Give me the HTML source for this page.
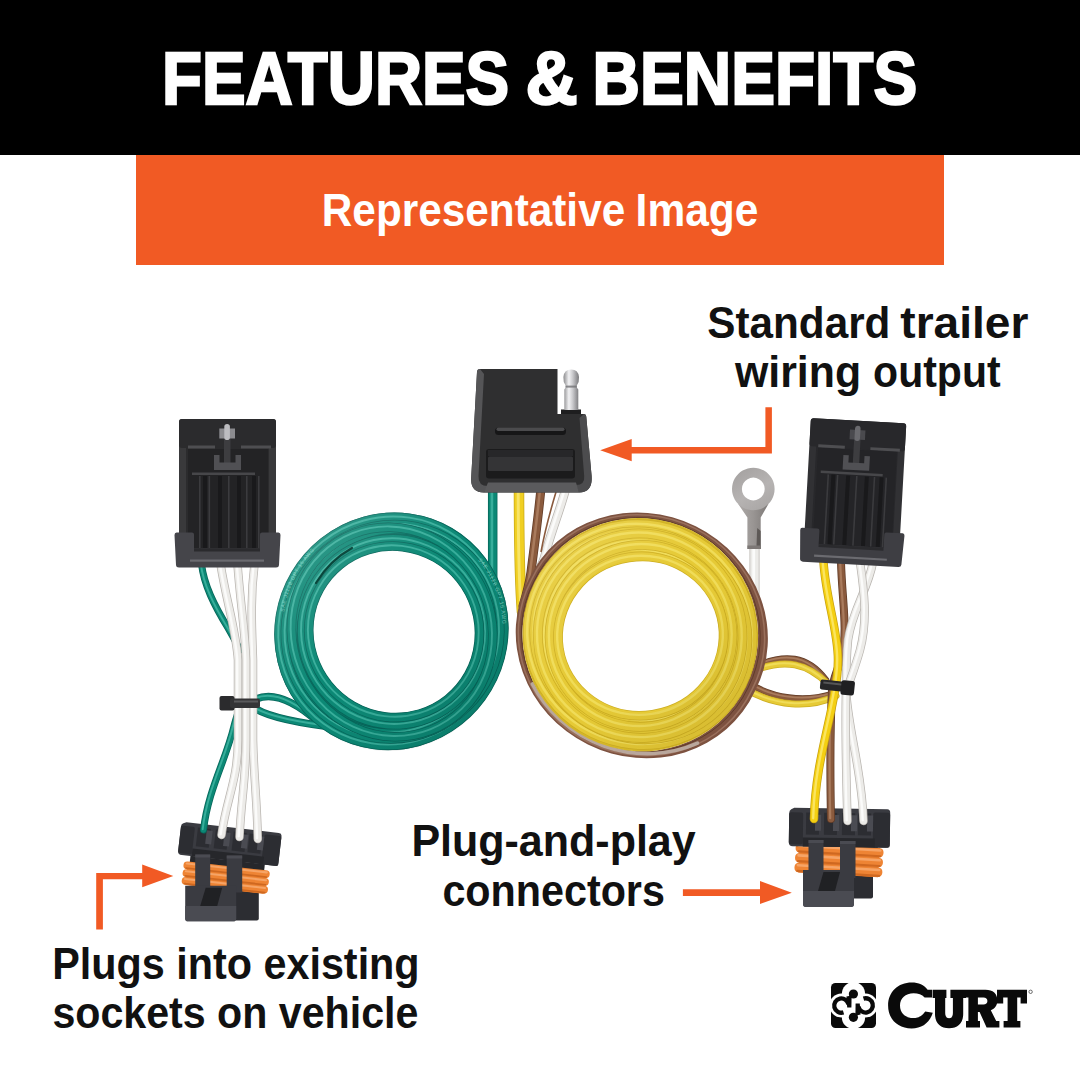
<!DOCTYPE html>
<html lang="en">
<head>
<meta charset="utf-8">
<title>Features &amp; Benefits</title>
<style>
  html, body { margin: 0; padding: 0; background: #ffffff; }
  body { width: 1080px; height: 1080px; overflow: hidden; font-family: "Liberation Sans", sans-serif; }
  svg { display: block; position: absolute; left: 0; top: 0; }
  text { font-family: "Liberation Sans", sans-serif; font-weight: bold; }
</style>
</head>
<body>
<svg width="1080" height="1080" viewBox="0 0 1080 1080">
  <defs>
    <linearGradient id="pinG" x1="0" y1="0" x2="1" y2="0">
      <stop offset="0" stop-color="#8a8a8c"/><stop offset="0.35" stop-color="#f2f2f4"/><stop offset="0.6" stop-color="#c9c9cc"/><stop offset="1" stop-color="#77777a"/>
    </linearGradient>
    <linearGradient id="stemG" x1="0" y1="0" x2="1" y2="0">
      <stop offset="0" stop-color="#aeaaa8"/><stop offset="0.5" stop-color="#999593"/><stop offset="1" stop-color="#7d7977"/>
    </linearGradient>
    <linearGradient id="whiteW" x1="0" y1="0" x2="1" y2="0">
      <stop offset="0" stop-color="#d2cfcb"/><stop offset="0.4" stop-color="#f6f5f3"/><stop offset="1" stop-color="#cfccc8"/>
    </linearGradient>
    <linearGradient id="coilShade" x1="0" y1="0" x2="1" y2="1">
      <stop offset="0" stop-color="#ffffff" stop-opacity="0.20"/><stop offset="0.45" stop-color="#ffffff" stop-opacity="0"/><stop offset="0.55" stop-color="#000000" stop-opacity="0"/><stop offset="1" stop-color="#003328" stop-opacity="0.16"/>
    </linearGradient>
    <linearGradient id="coilShadeY" x1="0" y1="0" x2="1" y2="1">
      <stop offset="0" stop-color="#ffffff" stop-opacity="0.14"/><stop offset="0.45" stop-color="#ffffff" stop-opacity="0"/><stop offset="0.55" stop-color="#000000" stop-opacity="0"/><stop offset="1" stop-color="#6b4a00" stop-opacity="0.12"/>
    </linearGradient>
    <linearGradient id="ringG" x1="0.2" y1="0" x2="0.8" y2="1">
      <stop offset="0" stop-color="#a5a2a1"/><stop offset="0.55" stop-color="#b6b3b2"/><stop offset="1" stop-color="#a9a6a5"/>
    </linearGradient>
  </defs>
  <!-- ============ HEADER ============ -->
  <g id="header">
    <rect x="0" y="0" width="1080" height="155" fill="#000000"/>
    <g font-size="74.5" fill="#ffffff" stroke="#ffffff" stroke-width="2.4" stroke-linejoin="miter" stroke-miterlimit="3">
      <text x="162" y="104" textLength="347.2" lengthAdjust="spacingAndGlyphs">FEATURES</text>
      <text x="525.6" y="104" textLength="52.2" lengthAdjust="spacingAndGlyphs">&amp;</text>
      <text x="592.6" y="104" textLength="324.6" lengthAdjust="spacingAndGlyphs">BENEFITS</text>
    </g>
    <rect x="136" y="155" width="808" height="110" fill="#f15a24"/>
    <g font-size="45.5" fill="#ffffff">
      <text x="321.8" y="226.2" textLength="303.4" lengthAdjust="spacingAndGlyphs">Representative</text>
      <text x="635.6" y="226.2" textLength="122.8" lengthAdjust="spacingAndGlyphs">Image</text>
    </g>
  </g>
  <!-- ============ PRODUCT ============ -->
  <g id="product">
  <g id="wires-back">
<path d="M492.7 488 V578" fill="none" stroke="#07655a" stroke-width="9.5" stroke-linecap="round" /><path d="M492.7 488 V578" fill="none" stroke="#0c8875" stroke-width="8.0" stroke-linecap="round" /><path d="M492.7 488 V578" fill="none" stroke="#38ae9b" stroke-width="2.66" stroke-linecap="round"  transform="translate(-0.8,-0.8)"/>
<path d="M519 488 C519 540 519.5 580 522 612" fill="none" stroke="#c9a917" stroke-width="10.5" stroke-linecap="round" /><path d="M519 488 C519 540 519.5 580 522 612" fill="none" stroke="#f0cf22" stroke-width="9.0" stroke-linecap="round" /><path d="M519 488 C519 540 519.5 580 522 612" fill="none" stroke="#f8e466" stroke-width="2.9400000000000004" stroke-linecap="round"  transform="translate(-0.8,-0.8)"/>
<path d="M541 488 C538 520 534 548 531 572 C529 586 526 596 523 606" fill="none" stroke="#5f3a26" stroke-width="9" stroke-linecap="round" /><path d="M541 488 C538 520 534 548 531 572 C529 586 526 596 523 606" fill="none" stroke="#8a5a3d" stroke-width="7.5" stroke-linecap="round" /><path d="M541 488 C538 520 534 548 531 572 C529 586 526 596 523 606" fill="none" stroke="#a97b5d" stroke-width="2.5200000000000005" stroke-linecap="round"  transform="translate(-0.8,-0.8)"/>
<path d="M566 488 C560 510 552 530 547 548 C545 556 543 562 541 566" fill="none" stroke="#b9b5b0" stroke-width="9" stroke-linecap="round" /><path d="M566 488 C560 510 552 530 547 548 C545 556 543 562 541 566" fill="none" stroke="#ecebe8" stroke-width="7.5" stroke-linecap="round" /><path d="M566 488 C560 510 552 530 547 548 C545 556 543 562 541 566" fill="none" stroke="#fbfbfa" stroke-width="2.5200000000000005" stroke-linecap="round"  transform="translate(-0.8,-0.8)"/>
<path d="M556 492 C550 512 545 530 541 552" fill="none" stroke="#8a5a3d" stroke-width="1.6"/>
<path d="M754.5 546 V612" fill="none" stroke="#b9b5b0" stroke-width="10" stroke-linecap="round" /><path d="M754.5 546 V612" fill="none" stroke="#ecebe8" stroke-width="8.5" stroke-linecap="round" /><path d="M754.5 546 V612" fill="none" stroke="#fbfbfa" stroke-width="2.8000000000000003" stroke-linecap="round"  transform="translate(-0.8,-0.8)"/>
  </g>
  <g id="green-coil">
<path d="M256 699 C270 693 290 697 318 722" fill="none" stroke="#07655a" stroke-width="7.5" stroke-linecap="round" /><path d="M256 699 C270 693 290 697 318 722" fill="none" stroke="#0c8875" stroke-width="6.0" stroke-linecap="round" /><path d="M256 699 C270 693 290 697 318 722" fill="none" stroke="#38ae9b" stroke-width="2.1" stroke-linecap="round"  transform="translate(-0.8,-0.8)"/>
<path d="M256 709 C268 716 296 723 340 728" fill="none" stroke="#07655a" stroke-width="7.5" stroke-linecap="round" /><path d="M256 709 C268 716 296 723 340 728" fill="none" stroke="#0c8875" stroke-width="6.0" stroke-linecap="round" /><path d="M256 709 C268 716 296 723 340 728" fill="none" stroke="#38ae9b" stroke-width="2.1" stroke-linecap="round"  transform="translate(-0.8,-0.8)"/>
<path d="M491.1 690.0 A115.7 118.9 30.5 1 1 291.7 572.6 A115.7 118.9 30.5 1 1 491.1 690.0 Z M445.4 695.9 A82.1 80.5 51.3 1 1 342.8 567.7 A82.1 80.5 51.3 1 1 445.4 695.9 Z" fill="#097364" fill-rule="evenodd"/>
<path d="M487.5 687.9 A111.5 114.7 30.5 1 1 295.3 574.7 A111.5 114.7 30.5 1 1 487.5 687.9 Z" fill="none" stroke="#07655a" stroke-width="9.6" stroke-linecap="round" /><path d="M487.5 687.9 A111.5 114.7 30.5 1 1 295.3 574.7 A111.5 114.7 30.5 1 1 487.5 687.9 Z" fill="none" stroke="#0c8875" stroke-width="8.1" stroke-linecap="round" /><path d="M487.5 687.9 A111.5 114.7 30.5 1 1 295.3 574.7 A111.5 114.7 30.5 1 1 487.5 687.9 Z" fill="none" stroke="#38ae9b" stroke-width="1.9" stroke-linecap="round"  transform="translate(-0.8,-0.8)"/>
<path d="M466.5 707.4 A105.8 106.7 45.7 1 1 318.7 556.0 A105.8 106.7 45.7 1 1 466.5 707.4 Z" fill="none" stroke="#07655a" stroke-width="9.6" stroke-linecap="round" /><path d="M466.5 707.4 A105.8 106.7 45.7 1 1 318.7 556.0 A105.8 106.7 45.7 1 1 466.5 707.4 Z" fill="none" stroke="#0c8875" stroke-width="8.1" stroke-linecap="round" /><path d="M466.5 707.4 A105.8 106.7 45.7 1 1 318.7 556.0 A105.8 106.7 45.7 1 1 466.5 707.4 Z" fill="none" stroke="#38ae9b" stroke-width="1.9" stroke-linecap="round"  transform="translate(-0.8,-0.8)"/>
<path d="M479.9 675.7 A98.3 100.5 26.9 1 1 304.6 586.8 A98.3 100.5 26.9 1 1 479.9 675.7 Z" fill="none" stroke="#07655a" stroke-width="9.6" stroke-linecap="round" /><path d="M479.9 675.7 A98.3 100.5 26.9 1 1 304.6 586.8 A98.3 100.5 26.9 1 1 479.9 675.7 Z" fill="none" stroke="#0c8875" stroke-width="8.1" stroke-linecap="round" /><path d="M479.9 675.7 A98.3 100.5 26.9 1 1 304.6 586.8 A98.3 100.5 26.9 1 1 479.9 675.7 Z" fill="none" stroke="#38ae9b" stroke-width="1.9" stroke-linecap="round"  transform="translate(-0.8,-0.8)"/>
<path d="M437.4 714.2 A93.1 91.6 62.099999999999994 1 1 350.3 549.6 A93.1 91.6 62.099999999999994 1 1 437.4 714.2 Z" fill="none" stroke="#07655a" stroke-width="9.6" stroke-linecap="round" /><path d="M437.4 714.2 A93.1 91.6 62.099999999999994 1 1 350.3 549.6 A93.1 91.6 62.099999999999994 1 1 437.4 714.2 Z" fill="none" stroke="#0c8875" stroke-width="8.1" stroke-linecap="round" /><path d="M437.4 714.2 A93.1 91.6 62.099999999999994 1 1 350.3 549.6 A93.1 91.6 62.099999999999994 1 1 437.4 714.2 Z" fill="none" stroke="#38ae9b" stroke-width="1.9" stroke-linecap="round"  transform="translate(-0.8,-0.8)"/>
<path d="M485.0 595.2 A99.9 105.5 -21.596000000000004 1 1 299.2 668.8 A99.9 105.5 -21.596000000000004 1 1 485.0 595.2 Z" fill="none" stroke="#07655a" stroke-width="9.6" stroke-linecap="round" /><path d="M485.0 595.2 A99.9 105.5 -21.596000000000004 1 1 299.2 668.8 A99.9 105.5 -21.596000000000004 1 1 485.0 595.2 Z" fill="none" stroke="#0c8875" stroke-width="8.1" stroke-linecap="round" /><path d="M485.0 595.2 A99.9 105.5 -21.596000000000004 1 1 299.2 668.8 A99.9 105.5 -21.596000000000004 1 1 485.0 595.2 Z" fill="none" stroke="#38ae9b" stroke-width="1.9" stroke-linecap="round"  transform="translate(-0.8,-0.8)"/>
<path d="M448.1 699.2 A86.3 84.7 51.3 1 1 340.1 564.4 A86.3 84.7 51.3 1 1 448.1 699.2 Z" fill="none" stroke="#07655a" stroke-width="9.6" stroke-linecap="round" /><path d="M448.1 699.2 A86.3 84.7 51.3 1 1 340.1 564.4 A86.3 84.7 51.3 1 1 448.1 699.2 Z" fill="none" stroke="#0c8875" stroke-width="8.1" stroke-linecap="round" /><path d="M448.1 699.2 A86.3 84.7 51.3 1 1 340.1 564.4 A86.3 84.7 51.3 1 1 448.1 699.2 Z" fill="none" stroke="#38ae9b" stroke-width="1.9" stroke-linecap="round"  transform="translate(-0.8,-0.8)"/>
<path d="M491.5 690.3 A116.2 119.4 30.5 1 1 291.3 572.3 A116.2 119.4 30.5 1 1 491.5 690.3 Z M445.1 695.5 A81.6 80.0 51.3 1 1 343.1 568.1 A81.6 80.0 51.3 1 1 445.1 695.5 Z" fill="url(#coilShade)" fill-rule="evenodd"/>
<path id="sae-g" d="M284 612 A110 111 0 0 1 345 528" fill="none"/>
<text font-size="5.2" fill="#9fe0d4" opacity="0.75" style="font-weight:normal" letter-spacing="0.6"><textPath href="#sae-g">SAE J1128 GPT 16 AWG</textPath></text>
<path id="sae-g2" d="M478 560 A104 104 0 0 1 494 668" fill="none"/>
<text font-size="5.2" fill="#9fe0d4" opacity="0.7" style="font-weight:normal" letter-spacing="0.6"><textPath href="#sae-g2">SAE J1128 GPT 16 AWG</textPath></text>
<path d="M316 583 Q330 560 352 548" fill="none" stroke="#06382f" stroke-width="2.2" stroke-linecap="round" opacity="0.85"/>
  </g>
  <g id="yellow-coil">
<path d="M752 668 C785 652 808 656 826 680" fill="none" stroke="#5f3a26" stroke-width="6.5" stroke-linecap="round" /><path d="M752 668 C785 652 808 656 826 680" fill="none" stroke="#8a5a3d" stroke-width="5.0" stroke-linecap="round" /><path d="M752 668 C785 652 808 656 826 680" fill="none" stroke="#a97b5d" stroke-width="1.8200000000000003" stroke-linecap="round"  transform="translate(-0.8,-0.8)"/>
<path d="M750 672 C786 657 808 664 828 684" fill="none" stroke="#cdae22" stroke-width="7" stroke-linecap="round" /><path d="M750 672 C786 657 808 664 828 684" fill="none" stroke="#e6ca36" stroke-width="5.5" stroke-linecap="round" /><path d="M750 672 C786 657 808 664 828 684" fill="none" stroke="#f0dc58" stroke-width="1.9600000000000002" stroke-linecap="round"  transform="translate(-0.8,-0.8)"/>
<path d="M744 680 C772 700 806 702 832 694" fill="none" stroke="#5f3a26" stroke-width="6.5" stroke-linecap="round" /><path d="M744 680 C772 700 806 702 832 694" fill="none" stroke="#8a5a3d" stroke-width="5.0" stroke-linecap="round" /><path d="M744 680 C772 700 806 702 832 694" fill="none" stroke="#a97b5d" stroke-width="1.8200000000000003" stroke-linecap="round"  transform="translate(-0.8,-0.8)"/>
<path d="M740 686 C776 708 810 708 836 696" fill="none" stroke="#cdae22" stroke-width="7" stroke-linecap="round" /><path d="M740 686 C776 708 810 708 836 696" fill="none" stroke="#e6ca36" stroke-width="5.5" stroke-linecap="round" /><path d="M740 686 C776 708 810 708 836 696" fill="none" stroke="#f0dc58" stroke-width="1.9600000000000002" stroke-linecap="round"  transform="translate(-0.8,-0.8)"/>
<path d="M754.9 691.3 A126.2 118.7 26.3 1 1 528.7 579.5 A126.2 118.7 26.3 1 1 754.9 691.3 Z M745.5 686.7 A117.4 113.7 26.3 1 1 535.1 582.6 A117.4 113.7 26.3 1 1 745.5 686.7 Z" fill="#7d5240" fill-rule="evenodd"/>
<path d="M751.9 689.8 A123.2 116.6 26.3 1 1 531.1 580.6 A123.2 116.6 26.3 1 1 751.9 689.8 Z" fill="none" stroke="#9a705c" stroke-width="1.6"/>
<path d="M748.0 687.9 A119.6 114.8 26.3 1 1 533.6 581.9 A119.6 114.8 26.3 1 1 748.0 687.9 Z" fill="none" stroke="#5f3b2b" stroke-width="1.0"/>
<path d="M697.5 743.2 A124.2 116.8 26.3 0 1 532.3 684.0" fill="none" stroke="#b9a79c" stroke-width="3.6" stroke-linecap="round"/>
<path d="M745.5 686.7 A117.4 113.7 26.3 1 1 535.1 582.6 A117.4 113.7 26.3 1 1 745.5 686.7 Z M718.5 624.5 A78.6 75.2 -8.5 1 1 563.1 647.7 A78.6 75.2 -8.5 1 1 718.5 624.5 Z" fill="#d4b628" fill-rule="evenodd"/>
<path d="M741.7 684.8 A113.1 109.4 26.3 1 1 538.9 584.5 A113.1 109.4 26.3 1 1 741.7 684.8 Z" fill="none" stroke="#cdae22" stroke-width="9.8" stroke-linecap="round" /><path d="M741.7 684.8 A113.1 109.4 26.3 1 1 538.9 584.5 A113.1 109.4 26.3 1 1 741.7 684.8 Z" fill="none" stroke="#e6ca36" stroke-width="8.3" stroke-linecap="round" /><path d="M741.7 684.8 A113.1 109.4 26.3 1 1 538.9 584.5 A113.1 109.4 26.3 1 1 741.7 684.8 Z" fill="none" stroke="#f0dc58" stroke-width="2.4" stroke-linecap="round"  transform="translate(-0.8,-0.8)"/>
<path d="M734.7 688.1 A107.7 102.8 29.34 1 1 546.9 582.6 A107.7 102.8 29.34 1 1 734.7 688.1 Z" fill="none" stroke="#cdae22" stroke-width="9.8" stroke-linecap="round" /><path d="M734.7 688.1 A107.7 102.8 29.34 1 1 546.9 582.6 A107.7 102.8 29.34 1 1 734.7 688.1 Z" fill="none" stroke="#e6ca36" stroke-width="8.3" stroke-linecap="round" /><path d="M734.7 688.1 A107.7 102.8 29.34 1 1 546.9 582.6 A107.7 102.8 29.34 1 1 734.7 688.1 Z" fill="none" stroke="#f0dc58" stroke-width="2.4" stroke-linecap="round"  transform="translate(-0.8,-0.8)"/>
<path d="M740.1 628.6 A100.2 98.2 -3.619999999999999 1 1 540.1 641.3 A100.2 98.2 -3.619999999999999 1 1 740.1 628.6 Z" fill="none" stroke="#cdae22" stroke-width="9.8" stroke-linecap="round" /><path d="M740.1 628.6 A100.2 98.2 -3.619999999999999 1 1 540.1 641.3 A100.2 98.2 -3.619999999999999 1 1 740.1 628.6 Z" fill="none" stroke="#e6ca36" stroke-width="8.3" stroke-linecap="round" /><path d="M740.1 628.6 A100.2 98.2 -3.619999999999999 1 1 540.1 641.3 A100.2 98.2 -3.619999999999999 1 1 740.1 628.6 Z" fill="none" stroke="#f0dc58" stroke-width="2.4" stroke-linecap="round"  transform="translate(-0.8,-0.8)"/>
<path d="M731.1 667.6 A95.6 91.0 19.42 1 1 550.9 604.0 A95.6 91.0 19.42 1 1 731.1 667.6 Z" fill="none" stroke="#cdae22" stroke-width="9.8" stroke-linecap="round" /><path d="M731.1 667.6 A95.6 91.0 19.42 1 1 550.9 604.0 A95.6 91.0 19.42 1 1 731.1 667.6 Z" fill="none" stroke="#e6ca36" stroke-width="8.3" stroke-linecap="round" /><path d="M731.1 667.6 A95.6 91.0 19.42 1 1 550.9 604.0 A95.6 91.0 19.42 1 1 731.1 667.6 Z" fill="none" stroke="#f0dc58" stroke-width="2.4" stroke-linecap="round"  transform="translate(-0.8,-0.8)"/>
<path d="M724.1 669.9 A89.9 84.5 22.46 1 1 557.9 601.1 A89.9 84.5 22.46 1 1 724.1 669.9 Z" fill="none" stroke="#cdae22" stroke-width="9.8" stroke-linecap="round" /><path d="M724.1 669.9 A89.9 84.5 22.46 1 1 557.9 601.1 A89.9 84.5 22.46 1 1 724.1 669.9 Z" fill="none" stroke="#e6ca36" stroke-width="8.3" stroke-linecap="round" /><path d="M724.1 669.9 A89.9 84.5 22.46 1 1 557.9 601.1 A89.9 84.5 22.46 1 1 724.1 669.9 Z" fill="none" stroke="#f0dc58" stroke-width="2.4" stroke-linecap="round"  transform="translate(-0.8,-0.8)"/>
<path d="M706.8 558.6 A101.8 102.8 -49.14 1 1 573.5 712.6 A101.8 102.8 -49.14 1 1 706.8 558.6 Z" fill="none" stroke="#cdae22" stroke-width="9.8" stroke-linecap="round" /><path d="M706.8 558.6 A101.8 102.8 -49.14 1 1 573.5 712.6 A101.8 102.8 -49.14 1 1 706.8 558.6 Z" fill="none" stroke="#e6ca36" stroke-width="8.3" stroke-linecap="round" /><path d="M706.8 558.6 A101.8 102.8 -49.14 1 1 573.5 712.6 A101.8 102.8 -49.14 1 1 706.8 558.6 Z" fill="none" stroke="#f0dc58" stroke-width="2.4" stroke-linecap="round"  transform="translate(-0.8,-0.8)"/>
<path d="M683.6 715.6 A90.4 90.3 61.940000000000005 1 1 598.5 556.1 A90.4 90.3 61.940000000000005 1 1 683.6 715.6 Z" fill="none" stroke="#cdae22" stroke-width="9.8" stroke-linecap="round" /><path d="M683.6 715.6 A90.4 90.3 61.940000000000005 1 1 598.5 556.1 A90.4 90.3 61.940000000000005 1 1 683.6 715.6 Z" fill="none" stroke="#e6ca36" stroke-width="8.3" stroke-linecap="round" /><path d="M683.6 715.6 A90.4 90.3 61.940000000000005 1 1 598.5 556.1 A90.4 90.3 61.940000000000005 1 1 683.6 715.6 Z" fill="none" stroke="#f0dc58" stroke-width="2.4" stroke-linecap="round"  transform="translate(-0.8,-0.8)"/>
<path d="M722.8 623.8 A82.9 79.5 -8.499999999999996 1 1 558.8 648.4 A82.9 79.5 -8.499999999999996 1 1 722.8 623.8 Z" fill="none" stroke="#cdae22" stroke-width="9.8" stroke-linecap="round" /><path d="M722.8 623.8 A82.9 79.5 -8.499999999999996 1 1 558.8 648.4 A82.9 79.5 -8.499999999999996 1 1 722.8 623.8 Z" fill="none" stroke="#e6ca36" stroke-width="8.3" stroke-linecap="round" /><path d="M722.8 623.8 A82.9 79.5 -8.499999999999996 1 1 558.8 648.4 A82.9 79.5 -8.499999999999996 1 1 722.8 623.8 Z" fill="none" stroke="#f0dc58" stroke-width="2.4" stroke-linecap="round"  transform="translate(-0.8,-0.8)"/>
<path d="M746.0 686.9 A117.9 114.2 26.3 1 1 534.6 582.4 A117.9 114.2 26.3 1 1 746.0 686.9 Z M718.0 624.6 A78.1 74.7 -8.5 1 1 563.6 647.6 A78.1 74.7 -8.5 1 1 718.0 624.6 Z" fill="url(#coilShadeY)" fill-rule="evenodd"/>
  </g>
  <g id="lower-right-connector"><g id="lowR"><g transform=""><path d="M850 866 H873 V896.5 Q873 898.5 871 898.5 H850 Z" fill="#2c2d32"/></g><g transform="rotate(3.4 839 860)"><rect x="801" y="838" width="76" height="14" fill="#26272b"/></g><g transform="rotate(3.4 839 860)"><rect x="799" y="847" width="80" height="28" fill="#cf6820"/><rect x="795" y="845.5" width="88" height="9.6" rx="4.2" fill="#ee8434"/><rect x="797" y="846.7" width="84" height="2.6" rx="1.3" fill="#f6a466"/><rect x="797" y="852.7" width="84" height="2.2" rx="1.1" fill="#cf6820"/><rect x="795" y="855.3" width="88" height="9.6" rx="4.2" fill="#ee8434"/><rect x="797" y="856.5" width="84" height="2.6" rx="1.3" fill="#f6a466"/><rect x="797" y="862.5" width="84" height="2.2" rx="1.1" fill="#cf6820"/><rect x="795" y="865.1" width="88" height="9.6" rx="4.2" fill="#ee8434"/><rect x="797" y="866.3000000000001" width="84" height="2.6" rx="1.3" fill="#f6a466"/><rect x="797" y="872.3000000000001" width="84" height="2.2" rx="1.1" fill="#cf6820"/></g><g transform="rotate(0.8 840 828)"><path d="M794 808.5 H887 Q890 808.5 890 812 V843 Q890 847 886 847 H793 Q789 847 789 843 V814 Q789 811 791 810 Z" fill="#3a3b41"/><rect x="789" y="813" width="14" height="32" rx="2" fill="#2c2d32"/><rect x="873" y="812" width="17" height="35" rx="2" fill="#2c2d32"/><rect x="806" y="813" width="13" height="22" fill="#2c2d32"/><rect x="815" y="815" width="6" height="16" fill="#4a4b52"/><rect x="824" y="813" width="13" height="22" fill="#2c2d32"/><rect x="833" y="815" width="6" height="16" fill="#4a4b52"/><rect x="842" y="813" width="13" height="22" fill="#2c2d32"/><rect x="851" y="815" width="6" height="16" fill="#4a4b52"/><rect x="858" y="813" width="13" height="22" fill="#2c2d32"/><rect x="867" y="815" width="6" height="16" fill="#4a4b52"/><rect x="803" y="838" width="72" height="9" fill="#26272b"/></g><g transform=""><path d="M808.5 840 H823.5 V877 H808.5 Z" fill="#3a3b41"/><path d="M840 841 H855.5 V878 H840 Z" fill="#3a3b41"/><rect x="808.5" y="840" width="15" height="3" fill="#4a4b52"/><rect x="840" y="841" width="15.5" height="3" fill="#4a4b52"/></g><g transform=""><path d="M803 870 H854 V904 Q854 907 851 907 H806 Q803 907 803 904 Z" fill="#3a3b41"/><path d="M803 891 H854 V904 Q854 907 851 907 H806 Q803 907 803 904 Z" fill="#4a4b52"/><path d="M823.5 872 H840 L835 891 H818 Z" fill="#202124"/></g></g></g>
  <g id="lower-left-connector"><g id="lowL"><g transform="translate(-614.2,22)"><path d="M850 866 H873 V896.5 Q873 898.5 871 898.5 H850 Z" fill="#2c2d32"/></g><g transform="translate(225.7,877.6) rotate(6.4) scale(0.985,0.80) translate(-839,-860.2)"><rect x="801" y="838" width="76" height="14" fill="#26272b"/></g><g transform="translate(225.7,877.6) rotate(6.4) scale(0.985,0.80) translate(-839,-860.2)"><rect x="799" y="847" width="80" height="28" fill="#cf6820"/><rect x="795" y="845.5" width="88" height="9.6" rx="4.2" fill="#ee8434"/><rect x="797" y="846.7" width="84" height="2.6" rx="1.3" fill="#f6a466"/><rect x="797" y="852.7" width="84" height="2.2" rx="1.1" fill="#cf6820"/><rect x="795" y="855.3" width="88" height="9.6" rx="4.2" fill="#ee8434"/><rect x="797" y="856.5" width="84" height="2.6" rx="1.3" fill="#f6a466"/><rect x="797" y="862.5" width="84" height="2.2" rx="1.1" fill="#cf6820"/><rect x="795" y="865.1" width="88" height="9.6" rx="4.2" fill="#ee8434"/><rect x="797" y="866.3000000000001" width="84" height="2.6" rx="1.3" fill="#f6a466"/><rect x="797" y="872.3000000000001" width="84" height="2.2" rx="1.1" fill="#cf6820"/></g><g transform="translate(229.8,843.9) rotate(6.6) scale(1.0,0.86) translate(-839.5,-827.75)"><path d="M794 808.5 H887 Q890 808.5 890 812 V843 Q890 847 886 847 H793 Q789 847 789 843 V814 Q789 811 791 810 Z" fill="#3a3b41"/><rect x="789" y="813" width="14" height="32" rx="2" fill="#2c2d32"/><rect x="873" y="812" width="17" height="35" rx="2" fill="#2c2d32"/><rect x="806" y="813" width="13" height="22" fill="#2c2d32"/><rect x="815" y="815" width="6" height="16" fill="#4a4b52"/><rect x="824" y="813" width="13" height="22" fill="#2c2d32"/><rect x="833" y="815" width="6" height="16" fill="#4a4b52"/><rect x="842" y="813" width="13" height="22" fill="#2c2d32"/><rect x="851" y="815" width="6" height="16" fill="#4a4b52"/><rect x="858" y="813" width="13" height="22" fill="#2c2d32"/><rect x="867" y="815" width="6" height="16" fill="#4a4b52"/><rect x="803" y="838" width="72" height="9" fill="#26272b"/></g><g transform="translate(-613.3,14.5)"><path d="M808.5 840 H823.5 V877 H808.5 Z" fill="#3a3b41"/><path d="M840 841 H855.5 V878 H840 Z" fill="#3a3b41"/><rect x="808.5" y="840" width="15" height="3" fill="#4a4b52"/><rect x="840" y="841" width="15.5" height="3" fill="#4a4b52"/></g><g transform="translate(-617.8,17) scale(1,0.96) translate(0,35)"><path d="M803 870 H854 V904 Q854 907 851 907 H806 Q803 907 803 904 Z" fill="#3a3b41"/><path d="M803 891 H854 V904 Q854 907 851 907 H806 Q803 907 803 904 Z" fill="#4a4b52"/><path d="M823.5 872 H840 L835 891 H818 Z" fill="#202124"/></g></g></g>
  <g id="left-bundle">
<path d="M201.5 564 C204 585 214 605 228 628 C232 635 236 642 240 650" fill="none" stroke="#07655a" stroke-width="7" stroke-linecap="round" /><path d="M201.5 564 C204 585 214 605 228 628 C232 635 236 642 240 650" fill="none" stroke="#0c8875" stroke-width="5.5" stroke-linecap="round" /><path d="M201.5 564 C204 585 214 605 228 628 C232 635 236 642 240 650" fill="none" stroke="#38ae9b" stroke-width="1.9600000000000002" stroke-linecap="round"  transform="translate(-0.8,-0.8)"/>
<path d="M242 700 C238 712 236 718 234 726 C226 760 208 790 203.5 830" fill="none" stroke="#07655a" stroke-width="7" stroke-linecap="round" /><path d="M242 700 C238 712 236 718 234 726 C226 760 208 790 203.5 830" fill="none" stroke="#0c8875" stroke-width="5.5" stroke-linecap="round" /><path d="M242 700 C238 712 236 718 234 726 C226 760 208 790 203.5 830" fill="none" stroke="#38ae9b" stroke-width="1.9600000000000002" stroke-linecap="round"  transform="translate(-0.8,-0.8)"/>
<path d="M220.5 564 C226 600 236 630 238 660 V740 C238 780 226 800 221.5 835" fill="none" stroke="#b9b5b0" stroke-width="8.5" stroke-linecap="round" /><path d="M220.5 564 C226 600 236 630 238 660 V740 C238 780 226 800 221.5 835" fill="none" stroke="#ecebe8" stroke-width="7.0" stroke-linecap="round" /><path d="M220.5 564 C226 600 236 630 238 660 V740 C238 780 226 800 221.5 835" fill="none" stroke="#fbfbfa" stroke-width="2.3800000000000003" stroke-linecap="round"  transform="translate(-0.8,-0.8)"/>
<path d="M254.5 564 C250 600 252 630 253 660 V740 C254 780 257 800 257.8 839" fill="none" stroke="#b9b5b0" stroke-width="8.5" stroke-linecap="round" /><path d="M254.5 564 C250 600 252 630 253 660 V740 C254 780 257 800 257.8 839" fill="none" stroke="#ecebe8" stroke-width="7.0" stroke-linecap="round" /><path d="M254.5 564 C250 600 252 630 253 660 V740 C254 780 257 800 257.8 839" fill="none" stroke="#fbfbfa" stroke-width="2.3800000000000003" stroke-linecap="round"  transform="translate(-0.8,-0.8)"/>
<path d="M237.5 564 C240 600 245 630 246 660 V740 C246 780 241 800 239.5 837" fill="none" stroke="#b9b5b0" stroke-width="8.5" stroke-linecap="round" /><path d="M237.5 564 C240 600 245 630 246 660 V740 C246 780 241 800 239.5 837" fill="none" stroke="#ecebe8" stroke-width="7.0" stroke-linecap="round" /><path d="M237.5 564 C240 600 245 630 246 660 V740 C246 780 241 800 239.5 837" fill="none" stroke="#fbfbfa" stroke-width="2.3800000000000003" stroke-linecap="round"  transform="translate(-0.8,-0.8)"/>
<rect x="219.5" y="696" width="15" height="14.5" rx="2" fill="#2b2b2d"/>
<rect x="230" y="698.5" width="30" height="9.5" rx="2" fill="#343436"/>
<rect x="234" y="700.5" width="24" height="2" fill="#5a5a5c"/>
  </g>
  <g id="right-bundle">
<path d="M841 562 C842 600 848 630 842 655 C838 670 833 678 832 690 C830 730 830 770 831 819" fill="none" stroke="#5f3a26" stroke-width="8" stroke-linecap="round" /><path d="M841 562 C842 600 848 630 842 655 C838 670 833 678 832 690 C830 730 830 770 831 819" fill="none" stroke="#8a5a3d" stroke-width="6.5" stroke-linecap="round" /><path d="M841 562 C842 600 848 630 842 655 C838 670 833 678 832 690 C830 730 830 770 831 819" fill="none" stroke="#a97b5d" stroke-width="2.24" stroke-linecap="round"  transform="translate(-0.8,-0.8)"/>
<path d="M873 562 C868 590 852 610 848 640 C846 660 846 675 846 690 C848 730 862 770 863.5 821" fill="none" stroke="#b9b5b0" stroke-width="8.5" stroke-linecap="round" /><path d="M873 562 C868 590 852 610 848 640 C846 660 846 675 846 690 C848 730 862 770 863.5 821" fill="none" stroke="#ecebe8" stroke-width="7.0" stroke-linecap="round" /><path d="M873 562 C868 590 852 610 848 640 C846 660 846 675 846 690 C848 730 862 770 863.5 821" fill="none" stroke="#fbfbfa" stroke-width="2.3800000000000003" stroke-linecap="round"  transform="translate(-0.8,-0.8)"/>
<path d="M860 562 C864 590 868 620 860 650 C855 668 850 680 846 692 C845 730 846 770 847.5 821" fill="none" stroke="#b9b5b0" stroke-width="8.5" stroke-linecap="round" /><path d="M860 562 C864 590 868 620 860 650 C855 668 850 680 846 692 C845 730 846 770 847.5 821" fill="none" stroke="#ecebe8" stroke-width="7.0" stroke-linecap="round" /><path d="M860 562 C864 590 868 620 860 650 C855 668 850 680 846 692 C845 730 846 770 847.5 821" fill="none" stroke="#fbfbfa" stroke-width="2.3800000000000003" stroke-linecap="round"  transform="translate(-0.8,-0.8)"/>
<path d="M823.5 562 C826 600 838 630 838 660 C838 675 836 685 834 696 C828 730 815 770 814 819" fill="none" stroke="#c59f10" stroke-width="8.5" stroke-linecap="round" /><path d="M823.5 562 C826 600 838 630 838 660 C838 675 836 685 834 696 C828 730 815 770 814 819" fill="none" stroke="#f4cf12" stroke-width="7.0" stroke-linecap="round" /><path d="M823.5 562 C826 600 838 630 838 660 C838 675 836 685 834 696 C828 730 815 770 814 819" fill="none" stroke="#fbe560" stroke-width="2.3800000000000003" stroke-linecap="round"  transform="translate(-0.8,-0.8)"/>
<g transform="rotate(6 837 687)">
<rect x="820" y="681" width="30" height="10" rx="2" fill="#262628"/>
<rect x="841" y="679.5" width="13.5" height="14.5" rx="2.5" fill="#1f1f21"/>
<rect x="823" y="683" width="18" height="2" fill="#555557"/>
</g>
  </g>
  <g id="ring-terminal">
<path d="M738.2 504 L747.4 517.5 V549 H760.7 V517.5 L768.4 504 Z" fill="url(#stemG)"/>
<path d="M753.3 467.7 a21.3 21.3 0 1 0 0.01 0 Z M753.3 477.6 a11.4 11.4 0 1 1 -0.01 0 Z" fill="url(#ringG)" fill-rule="evenodd"/>
<path d="M757.2 528 L760.7 531 V549 H756.4 Z" fill="#55504e" opacity="0.85"/>
<rect x="747.4" y="545.5" width="13.3" height="3.5" fill="#7d7876"/>
  </g>
  <g id="left-connector"><g id="connL"><rect x="179" y="419" width="97" height="118" rx="3" fill="#39393b"/><rect x="186" y="419.5" width="83" height="131" fill="#2b2b2d"/><rect x="179" y="419" width="97" height="29" rx="3" fill="#2b2b2d"/><rect x="188" y="445.5" width="27" height="3" fill="#4e4e51"/><rect x="241" y="445.5" width="30" height="3" fill="#4e4e51"/><rect x="188" y="449" width="80" height="101" fill="#232325"/><rect x="192" y="472.5" width="63" height="2.5" fill="#47474a"/><rect x="199" y="476" width="1.6" height="72" fill="#3b3b3e"/><rect x="208.5" y="476" width="1.6" height="72" fill="#3b3b3e"/><rect x="228" y="476" width="1.6" height="72" fill="#3b3b3e"/><rect x="246" y="476" width="1.6" height="72" fill="#3b3b3e"/><rect x="258" y="476" width="1.6" height="72" fill="#3b3b3e"/><rect x="203" y="476" width="4" height="72" fill="#19191b"/><rect x="218" y="476" width="4" height="72" fill="#19191b"/><rect x="237" y="476" width="4" height="72" fill="#19191b"/><rect x="252" y="476" width="4" height="72" fill="#19191b"/><rect x="224" y="436" width="6.5" height="32" fill="#3d3d40"/><path d="M214 455 H219.5 V462.5 H235.5 V455 H241 V470 H214 Z" fill="#505054"/><rect x="219.3" y="428.5" width="15.7" height="10" fill="#8b8b8f"/><rect x="224.3" y="424" width="5.6" height="16" rx="2.8" fill="#bcbcc0"/><path d="M176.5 532.5 H192 Q194 532.5 194 534.5 V548.5 H260 V534.5 Q260 532.5 262 532.5 H278.5 Q280.5 532.5 280.5 535 L279 565 Q278.8 567.5 276 567.5 H179 Q176.2 567.5 176 565 L174.5 535 Q174.5 532.5 176.5 532.5 Z" fill="#45454a"/><rect x="190" y="559.5" width="74" height="2.2" fill="#6b6b70"/><rect x="194" y="548.5" width="66" height="3" fill="#2a2a2d"/></g></g>
  <g id="right-connector" transform="translate(854.6,492.6) rotate(3.2) scale(0.985,0.968) translate(-227.5,-493.25)"><g id="connR"><rect x="179" y="419" width="97" height="118" rx="3" fill="#313134"/><rect x="186" y="419.5" width="83" height="131" fill="#28282b"/><rect x="179" y="419" width="97" height="29" rx="3" fill="#28282b"/><rect x="188" y="445.5" width="27" height="3" fill="#4e4e51"/><rect x="241" y="445.5" width="30" height="3" fill="#4e4e51"/><rect x="188" y="449" width="80" height="101" fill="#242427"/><rect x="192" y="472.5" width="63" height="2.5" fill="#47474a"/><rect x="199" y="476" width="1.6" height="72" fill="#3b3b3e"/><rect x="208.5" y="476" width="1.6" height="72" fill="#3b3b3e"/><rect x="228" y="476" width="1.6" height="72" fill="#3b3b3e"/><rect x="246" y="476" width="1.6" height="72" fill="#3b3b3e"/><rect x="258" y="476" width="1.6" height="72" fill="#3b3b3e"/><rect x="203" y="476" width="4" height="72" fill="#19191b"/><rect x="218" y="476" width="4" height="72" fill="#19191b"/><rect x="237" y="476" width="4" height="72" fill="#19191b"/><rect x="252" y="476" width="4" height="72" fill="#19191b"/><rect x="224" y="436" width="6.5" height="32" fill="#3d3d40"/><path d="M214 455 H219.5 V462.5 H235.5 V455 H241 V470 H214 Z" fill="#505054"/><rect x="219.3" y="428.5" width="15.7" height="10" fill="#4a4a4e"/><rect x="224.3" y="424" width="5.6" height="16" rx="2.8" fill="#6a6a6e"/><path d="M176.5 532.5 H192 Q194 532.5 194 534.5 V548.5 H260 V534.5 Q260 532.5 262 532.5 H278.5 Q280.5 532.5 280.5 535 L279 565 Q278.8 567.5 276 567.5 H179 Q176.2 567.5 176 565 L174.5 535 Q174.5 532.5 176.5 532.5 Z" fill="#3e3e43"/><rect x="190" y="559.5" width="74" height="2.2" fill="#6b6b70"/><rect x="194" y="548.5" width="66" height="3" fill="#2a2a2d"/></g></g>
  <g id="center-connector">
<rect x="561" y="409.5" width="20" height="6" fill="#1e1e1f"/>
<path d="M564.3 410 V389.5 L565.6 387.6 V385.6 Q563 382 563.4 377 Q564.2 369.6 571.2 369.6 Q578.2 369.6 579 377 Q579.4 382 576.8 385.6 V387.6 L578.3 389.5 V410 Z" fill="url(#pinG)"/>
<rect x="565.6" y="385.6" width="11.2" height="2" fill="#77777a" opacity="0.85"/>
<path d="M480 369 H557.5 V414 H584 Q586 414 586.3 417 L591.6 476 Q592.8 492.5 579 492.5 H484 Q470.4 492.5 471.2 478 L477 372 Q477.2 369 480 369 Z" fill="#2f2f30"/>
<path d="M480 369 Q477.2 369 477 372 L471.2 478 Q470.4 492.5 484 492.5 L488 486 Q478 486 478.5 476 L484 374 Z" fill="#555557"/>
<path d="M584 414 Q586 414 586.3 417 L591.6 476 Q592.8 492.5 579 492.5 L576 485 Q585 485 584.2 476 L579.5 418 Z" fill="#4c4c4e"/>
<path d="M484 492.5 H579 L576 482.5 H488 Z" fill="#5b5b5d"/>
<rect x="495" y="427.6" width="71" height="7.4" rx="3.5" fill="#161617"/>
<rect x="496.5" y="427.6" width="68" height="3.4" rx="1.7" fill="#4b4b4d"/>
<rect x="486" y="449" width="89" height="29.5" rx="3" fill="#1b1b1c"/>
<rect x="488" y="456.5" width="85" height="14.5" rx="1.5" fill="#343436"/>
<rect x="488" y="450" width="85" height="6" fill="#272729"/>
  </g>
  </g>
  <!-- ============ LABELS ============ -->
  <g id="labels" fill="#111111" font-size="44">
    <text x="707.3" y="338" textLength="183.1" lengthAdjust="spacingAndGlyphs">Standard</text>
    <text x="900.3" y="338" textLength="128.1" lengthAdjust="spacingAndGlyphs">trailer</text>
    <text x="735" y="387.2" textLength="126.1" lengthAdjust="spacingAndGlyphs">wiring</text>
    <text x="873.1" y="387.2" textLength="127.5" lengthAdjust="spacingAndGlyphs">output</text>
    <text x="411.4" y="856" textLength="284.3" lengthAdjust="spacingAndGlyphs">Plug-and-play</text>
    <text x="442.4" y="905.8" textLength="222.5" lengthAdjust="spacingAndGlyphs">connectors</text>
    <text x="52.3" y="978.5" textLength="367.3" lengthAdjust="spacingAndGlyphs">Plugs into existing</text>
    <text x="52.4" y="1027.6" textLength="366" lengthAdjust="spacingAndGlyphs">sockets on vehicle</text>
  </g>
  <!-- ============ ARROWS ============ -->
  <g id="arrows" fill="#f15a24">
    <!-- top: standard trailer wiring output -->
    <path d="M765.4 407.2 H771.9 V453.5 H631.7 V461.3 L600.2 450.2 L631.7 439.1 V447 H765.4 Z"/>
    <!-- bottom-left: plugs into existing sockets -->
    <path d="M96.2 929.6 V872.9 H142.2 V864.4 L173.3 876 L142.2 887.3 V879.3 H102.9 V929.6 Z"/>
    <!-- bottom-right: plug-and-play connectors -->
    <path d="M682.9 889.3 H760 V881.1 L791.8 892.7 L760 904 V896 H682.9 Z"/>
  </g>
  <!-- ============ LOGO ============ -->
  <g id="logo">
    <!-- icon -->
    <rect x="831" y="983" width="45" height="45" rx="4.5" fill="#0a0a0a"/>
    <g fill="#ffffff">
      <circle cx="853.5" cy="993.6" r="11.6"/>
      <circle cx="853.5" cy="1017.4" r="11.6"/>
      <circle cx="841.4" cy="1005.5" r="12"/>
      <circle cx="865.6" cy="1005.5" r="12"/>
      <rect x="845" y="997" width="17" height="17"/>
    </g>
    <g fill="none" stroke="#0a0a0a" stroke-width="4.3">
      <!-- left ring, open to lower-right -->
      <path d="M843.5 1012.4 A7.15 7.15 0 1 1 848.4 1004.5"/>
      <!-- right ring, open to upper-left -->
      <path d="M863.5 998.6 A7.15 7.15 0 1 1 858.6 1006.5"/>
    </g>
    <g fill="#0a0a0a">
      <circle cx="853.4" cy="994" r="4.6"/>
      <circle cx="853.4" cy="1017.3" r="4.6"/>
      <path d="M846.4 996.6 L851.6 995.4 L851.4 1007.6 H847.2 Z"/>
      <path d="M860.6 1014.6 L855.4 1015.8 L855.6 1003.6 H859.8 Z"/>
    </g>
    <!-- CURT wordmark -->
    <g fill="#0a0a0a">
      <!-- C -->
      <path d="M932 989.8 V997.4 H924.6 C922 994.6 918.2 993.3 913.6 993.3 C905.4 993.3 900 998.2 900 1005.6 C900 1013 905.2 1018.1 913.2 1018.1 C918.6 1018.1 922.4 1016 925.2 1011.6 L932.8 1012.8 C929.6 1022.6 922.4 1028.4 911.6 1028.4 C897.8 1028.4 888.1 1019.2 888.1 1005.6 C888.1 992 897.9 982.6 911.8 982.6 C918.6 982.6 924 985 927.6 989.8 Z"/>
      <!-- U -->
      <path d="M932.6 989.8 H946.4 V998 H945.2 V1013 C945.2 1016.4 946.6 1018.2 949.1 1018.2 C951.6 1018.2 952.9 1016.4 952.9 1013 V998 H950.4 V989.8 H966 V998 H963.2 V1014 C963.2 1023 958 1028.2 949.1 1028.2 C940.2 1028.2 935 1023 935 1014 V998 H932.6 Z"/>
      <!-- R -->
      <path d="M966 989.8 H985.5 C993 989.8 997.4 993.8 997.4 1000.4 C997.4 1005.2 995 1008.6 990.8 1010.2 L996.2 1021 H999.4 V1027.6 H986.6 L979.6 1012 H977.9 V1021 H980 V1027.6 H966 V1021 H968.4 V997.6 H966 Z M977.9 997.4 V1004.6 H983.4 C986 1004.6 987.4 1003.2 987.4 1001 C987.4 998.8 986 997.4 983.4 997.4 Z"/>
      <!-- T -->
      <path d="M997 989.8 H1027 V1003.4 H1020.6 V997.6 H1017.2 V1021 H1020.4 V1027.6 H1003.6 V1021 H1007.6 V997.6 H1003.2 V1003.4 H997 Z"/>
      <!-- (R) -->
      <circle cx="1030.6" cy="991.8" r="1.7" fill="none" stroke="#333" stroke-width="0.7"/>
    </g>
  </g>
</svg>
</body>
</html>
